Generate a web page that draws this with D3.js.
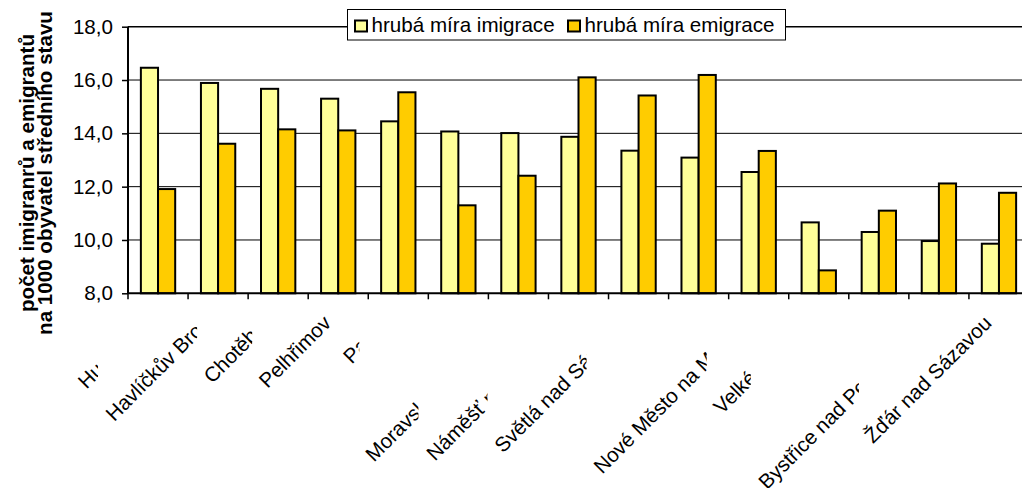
<!DOCTYPE html>
<html>
<head>
<meta charset="utf-8">
<style>
body { margin: 0; background: #fff; }
svg { display: block; font-family: "Liberation Sans", Arial, sans-serif; }
.grid line { stroke: #000; stroke-width: 1; }
</style>
<script src="https://cdn.jsdelivr.net/npm/d3@7"></script>
</head>
<body>
<div id="chart"></div>
<script>

var categories = ["Humpolec", "Havlíčkův Brod", "Chotěboř", "Pelhřimov", "Pacov", "Jihlava",
  "Moravské Budějovice", "Náměšť nad Oslavou", "Světlá nad Sázavou", "Třebíč",
  "Nové Město na Moravě", "Velké Meziříčí", "Telč", "Bystřice nad Pernštejnem", "Žďár nad Sázavou"];

var imigrace = [16.46, 15.89, 15.67, 15.30, 14.45, 14.07, 14.01, 13.87, 13.35, 13.09, 12.55, 10.66, 10.30, 9.96, 9.86];
var emigrace = [11.91, 13.61, 14.15, 14.11, 15.54, 11.30, 12.41, 16.10, 15.42, 16.19, 13.34, 8.86, 11.10, 12.12, 11.77];

var seriesNames = ["hrubá míra imigrace", "hrubá míra emigrace"];
var yTicks = [8, 10, 12, 14, 16, 18];
var yTitle = ["počet imigranrů a emigrantů", "na 1000 obyvatel středního stavu"];

// where each category label gets cut off (px from category centre), the chart
// overlaps its labels; null = shown whole
var labelCut = [-60, -21, -26, null, -39, -400, -100, -91, -52, -400, -52, -68, -400, -80, null];

var colors = ["#FFFF99", "#FFCC00"];

var W = 1022, H = 488;
var plotLeft = 128, plotTop = 26.7, plotBottom = 293.3, plotW = 901;
var fs = 20.6;

var svg = d3.select("#chart").append("svg")
    .attr("width", W)
    .attr("height", H);

var x0 = d3.scaleBand().domain(categories).range([plotLeft, plotLeft + plotW]);
var x1 = d3.scaleBand().domain([0, 1])
    .range([x0.bandwidth() * 0.75 / 3.5, x0.bandwidth() * 2.75 / 3.5]);
var y = d3.scaleLinear().domain([8, 18]).range([plotBottom, plotTop]);

// gridlines
svg.append("g").attr("class", "grid")
  .selectAll("line")
  .data(yTicks.slice(1, -1))
  .enter().append("line")
    .attr("x1", plotLeft).attr("x2", plotLeft + plotW)
    .attr("y1", function(d) { return y(d); })
    .attr("y2", function(d) { return y(d); });

// top border of plot area
svg.append("line")
    .attr("x1", plotLeft).attr("x2", plotLeft + plotW)
    .attr("y1", y(18)).attr("y2", y(18))
    .attr("stroke", "#000").attr("stroke-width", 1.6);

// bars
var groups = svg.append("g").selectAll("g")
  .data(categories)
  .enter().append("g")
    .attr("transform", function(d) { return "translate(" + x0(d) + ",0)"; });

groups.selectAll("rect")
  .data(function(d, i) { return [imigrace[i], emigrace[i]]; })
  .enter().append("rect")
    .attr("x", function(d, j) { return x1(j); })
    .attr("width", x1.bandwidth())
    .attr("y", function(d) { return y(d); })
    .attr("height", function(d) { return y(8) - y(d); })
    .attr("fill", function(d, j) { return colors[j]; })
    .attr("stroke", "#000")
    .attr("stroke-width", 2);

// y axis
var yAxis = svg.append("g")
    .attr("transform", "translate(" + plotLeft + ",0)")
    .call(d3.axisLeft(y).tickValues(yTicks).tickSize(6).tickPadding(9)
      .tickFormat(function(d) { return d3.format(".1f")(d).replace(".", ","); }));
yAxis.select(".domain").attr("stroke-width", 2).attr("d", "M0," + y(18) + "V" + y(8));
yAxis.selectAll(".tick line").attr("stroke-width", 1.5);
yAxis.selectAll("text")
    .attr("font-size", fs)
    .attr("font-family", "Liberation Sans, Arial, sans-serif")
    .attr("fill", "#000");

// x axis: ticks at category boundaries
var xAxis = svg.append("g").attr("transform", "translate(0," + plotBottom + ")");
xAxis.append("line")
    .attr("x1", plotLeft).attr("x2", plotLeft + plotW)
    .attr("stroke", "#000").attr("stroke-width", 2);
xAxis.selectAll(".xt")
  .data(categories)
  .enter().append("line")
    .attr("class", "xt")
    .attr("x1", function(d) { return x0(d); })
    .attr("x2", function(d) { return x0(d); })
    .attr("y1", 0).attr("y2", 6)
    .attr("stroke", "#000").attr("stroke-width", 1.5);

// rotated category labels
var defs = svg.append("defs");
categories.forEach(function(name, i) {
  var cx = x0(name) + x0.bandwidth() / 2;
  var g = svg.append("g");
  if (labelCut[i] !== null) {
    defs.append("clipPath").attr("id", "cut" + i)
      .append("rect")
        .attr("x", 0).attr("y", plotBottom)
        .attr("width", Math.max(0, cx + labelCut[i]))
        .attr("height", H - plotBottom);
    g.attr("clip-path", "url(#cut" + i + ")");
  }
  g.append("text")
      .attr("transform", "translate(" + (cx - 6) + "," + (plotBottom + 31) + ") rotate(-45)")
      .attr("text-anchor", "end")
      .attr("font-size", fs)
      .attr("fill", "#000")
      .text(name);
});

// y title
var yt = svg.append("text")
    .attr("transform", "translate(34,173) rotate(-90)")
    .attr("text-anchor", "middle")
    .attr("font-size", fs)
    .attr("font-weight", "bold");
yt.selectAll("tspan")
  .data(yTitle)
  .enter().append("tspan")
    .attr("x", 0)
    .attr("dy", function(d, i) { return i ? 17.5 : 0; })
    .text(function(d) { return d; });

// legend
var lg = svg.append("g");
lg.append("rect")
    .attr("x", 347.5).attr("y", 9.5)
    .attr("width", 438).attr("height", 30.5)
    .attr("fill", "#fff").attr("stroke", "#000").attr("stroke-width", 1);
var itemX = [354, 567];
seriesNames.forEach(function(s, i) {
  lg.append("rect")
      .attr("x", itemX[i] + 1).attr("y", 20.5)
      .attr("width", 12).attr("height", 11)
      .attr("fill", colors[i]).attr("stroke", "#000").attr("stroke-width", 2);
  lg.append("text")
      .attr("x", itemX[i] + 17.5).attr("y", 32)
      .attr("font-size", fs)
      .attr("fill", "#000")
      .text(s);
});

</script>
</body>
</html>
